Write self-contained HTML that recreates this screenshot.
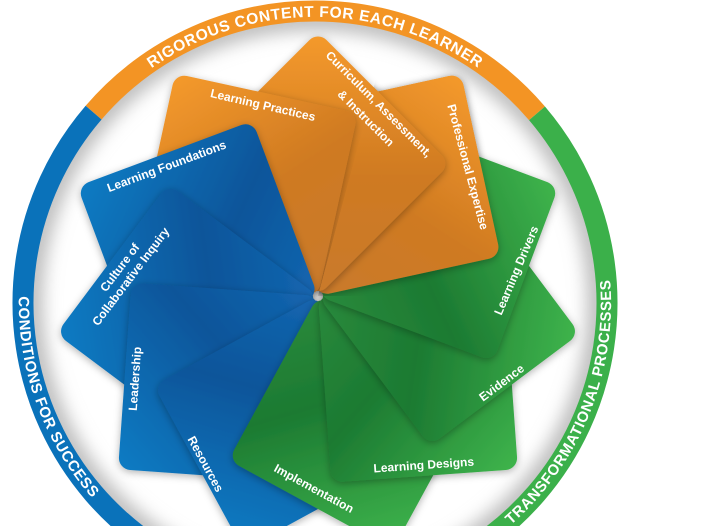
<!DOCTYPE html>
<html><head><meta charset="utf-8"><style>
html,body{margin:0;padding:0;background:#fff;width:702px;height:526px;overflow:hidden}
svg{display:block}
text{font-family:"Liberation Sans",sans-serif;font-weight:bold;fill:#fff}
</style></head><body>
<svg width="702" height="526" viewBox="0 0 702 526" xmlns="http://www.w3.org/2000/svg">
<defs>
<linearGradient id="gO" x1="0" y1="0" x2="1" y2="1">
<stop offset="0" stop-color="#c97a2c"/><stop offset="0.45" stop-color="#cf7a22"/><stop offset="1" stop-color="#f59a2c"/></linearGradient>
<linearGradient id="gB" x1="0" y1="0" x2="1" y2="1">
<stop offset="0" stop-color="#1466b0"/><stop offset="0.4" stop-color="#0a559a"/><stop offset="1" stop-color="#0e7cc4"/></linearGradient>
<linearGradient id="gG" x1="0" y1="0" x2="1" y2="1">
<stop offset="0" stop-color="#2a8a3c"/><stop offset="0.4" stop-color="#1c7a32"/><stop offset="1" stop-color="#3fb54c"/></linearGradient>
<filter id="sh" x="-20%" y="-20%" width="140%" height="140%">
<feDropShadow dx="0" dy="2" stdDeviation="4" flood-color="#000" flood-opacity="0.3"/></filter>
<filter id="bl"><feGaussianBlur stdDeviation="9"/></filter>
<clipPath id="inner"><circle cx="315" cy="303" r="282"/></clipPath>
<clipPath id="wedge"><polygon points="318,296 447,-187 818,-187 818,296"/></clipPath>
<path id="pTop" d="M46.2 205.2 A286 286 0 0 1 583.8 205.2"/>
<path id="pLeft" d="M46.5 177.8 A296 296 0 0 0 189.9 571.3"/>
<path id="pRight" d="M430.7 575.5 A296 296 0 0 0 587.5 187.3"/>
</defs>

<g clip-path="url(#inner)">
<circle cx="315" cy="303" r="284" fill="none" stroke="#b8b8b8" stroke-width="22" filter="url(#bl)"/>
</g>

<g fill="none" stroke-width="21">
<path d="M93.6 112.6 A292 292 0 0 1 537 113.3" stroke="#f39424"/>
<path d="M537 113.3 A292 292 0 0 1 315 595" stroke="#3bb04a"/>
<path d="M315 595 A292 292 0 0 1 93.6 112.6" stroke="#0a72ba"/>
</g>
<text font-size="15.5" letter-spacing="0.6"><textPath href="#pTop" startOffset="50%" text-anchor="middle">RIGOROUS CONTENT FOR EACH LEARNER</textPath></text>
<text font-size="15" letter-spacing="0.6"><textPath href="#pLeft" startOffset="50%" text-anchor="middle">CONDITIONS FOR SUCCESS</textPath></text>
<text font-size="15" letter-spacing="0.6"><textPath href="#pRight" startOffset="50%" text-anchor="middle">TRANSFORMATIONAL PROCESSES</textPath></text>

<g filter="url(#sh)"><rect width="187" height="187" rx="12" fill="url(#gO)" transform="translate(318 296) rotate(-102.3)"/></g>
<g filter="url(#sh)"><rect width="187" height="187" rx="12" fill="url(#gO)" transform="translate(318 296) rotate(-135)"/></g>
<g filter="url(#sh)"><rect width="187" height="187" rx="12" fill="url(#gO)" transform="translate(318 296) rotate(-167.7)"/></g>
<g filter="url(#sh)"><rect width="187" height="187" rx="12" fill="url(#gB)" transform="translate(318 296) rotate(159.5)"/></g>
<g filter="url(#sh)"><rect width="187" height="187" rx="12" fill="url(#gB)" transform="translate(318 296) rotate(126.8)"/></g>
<g filter="url(#sh)"><rect width="187" height="187" rx="12" fill="url(#gB)" transform="translate(318 296) rotate(94.1)"/></g>
<g filter="url(#sh)"><rect width="187" height="187" rx="12" fill="url(#gB)" transform="translate(318 296) rotate(61.4)"/></g>
<g filter="url(#sh)"><rect width="187" height="187" rx="12" fill="url(#gG)" transform="translate(318 296) rotate(28.6)"/></g>
<g filter="url(#sh)"><rect width="187" height="187" rx="12" fill="url(#gG)" transform="translate(318 296) rotate(-4.1)"/></g>
<g filter="url(#sh)"><rect width="187" height="187" rx="12" fill="url(#gG)" transform="translate(318 296) rotate(-36.8)"/></g>
<g filter="url(#sh)"><rect width="187" height="187" rx="12" fill="url(#gG)" transform="translate(318 296) rotate(-69.5)"/></g>
<g clip-path="url(#wedge)">
<g filter="url(#sh)"><rect width="187" height="187" rx="12" fill="url(#gO)" transform="translate(318 296) rotate(-102.3)"/></g>
<g filter="url(#sh)"><rect width="187" height="187" rx="12" fill="url(#gO)" transform="translate(318 296) rotate(-135)"/></g>
</g>

<g font-size="12" text-anchor="middle">
<text transform="translate(262 109) rotate(13)">Learning Practices</text>
<text transform="translate(376 107) rotate(45)">Curriculum, Assessment,</text>
<text transform="translate(363 121) rotate(45)">&amp; Instruction</text>
<text transform="translate(464 168) rotate(75)">Professional Expertise</text>
<text transform="translate(520 272) rotate(-67)">Learning Drivers</text>
<text transform="translate(504 386) rotate(-37)">Evidence</text>
<text transform="translate(424 469) rotate(-4)">Learning Designs</text>
<text transform="translate(312 492) rotate(28.6)">Implementation</text>
<text transform="translate(202 466) rotate(61.4)">Resources</text>
<text transform="translate(139 379) rotate(-86)">Leadership</text>
<text transform="translate(123 270) rotate(-53)">Culture of</text>
<text transform="translate(134 279) rotate(-53)">Collaborative Inquiry</text>
<text transform="translate(168 170) rotate(-20.5)">Learning Foundations</text>
</g>
</svg>
</body></html>
